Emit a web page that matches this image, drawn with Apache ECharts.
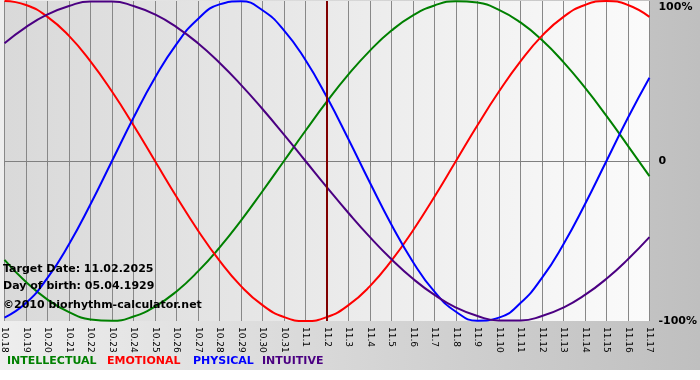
<!DOCTYPE html>
<html><head><meta charset="utf-8">
<script src="https://cdn.jsdelivr.net/npm/echarts@6/dist/echarts.min.js"></script>
<style>html,body{margin:0;padding:0;background:#fff}#c{width:700px;height:380px}</style>
</head><body><div id="c"></div>
<script>
const categories = ['10.18','10.19','10.20','10.21','10.22','10.23','10.24','10.25','10.26','10.27','10.28','10.29','10.30','10.31','11.1','11.2','11.3','11.4','11.5','11.6','11.7','11.8','11.9','11.10','11.11','11.12','11.13','11.14','11.15','11.16','11.17'];
const targetDate = '11.2';
const intellectual = [-0.618,-0.756,-0.866,-0.945,-0.990,-0.999,-0.972,-0.910,-0.815,-0.690,-0.541,-0.372,-0.189,0,0.189,0.372,0.541,0.690,0.815,0.910,0.972,0.999,0.990,0.945,0.866,0.756,0.618,0.458,0.282,0.095,-0.095];
const emotional = [1.000,0.975,0.901,0.782,0.623,0.434,0.223,0,-0.223,-0.434,-0.623,-0.782,-0.901,-0.975,-1.000,-0.975,-0.901,-0.782,-0.623,-0.434,-0.223,0,0.223,0.434,0.623,0.782,0.901,0.975,1.000,0.975,0.901];
const physical = [-0.979,-0.888,-0.731,-0.520,-0.270,0,0.270,0.520,0.731,0.888,0.979,0.998,0.942,0.817,0.631,0.398,0.136,-0.136,-0.398,-0.631,-0.817,-0.942,-0.998,-0.979,-0.888,-0.731,-0.520,-0.270,0,0.270,0.520];
const intuitive = [0.736,0.837,0.916,0.969,0.997,0.997,0.969,0.916,0.837,0.736,0.614,0.476,0.325,0.165,0,-0.165,-0.325,-0.476,-0.614,-0.736,-0.837,-0.916,-0.969,-0.997,-0.997,-0.969,-0.916,-0.837,-0.736,-0.614,-0.476];
const seriesNames = ['INTELLECTUAL','EMOTIONAL','PHYSICAL','INTUITIVE'];
const seriesColors = ['#008000','#ff0000','#0000ff','#4b0082'];
const yTickLabels = {'-1':'-100%','0':'0','1':'100%'};
const infoLines = ['Target Date: 11.02.2025','Day of birth: 05.04.1929','\u00a92010 biorhythm-calculator.net'];

const chart = echarts.init(document.getElementById('c'), null, {renderer:'canvas'});
const FF = '"DejaVu Sans", Verdana, sans-serif';
const dataSets = [intellectual, emotional, physical, intuitive];
const series = dataSets.map((d, i) => ({
  name: seriesNames[i], type:'line', data:d, smooth:true, symbol:'none',
  lineStyle:{color:seriesColors[i], width:2}, itemStyle:{color:seriesColors[i]},
  emphasis:{disabled:true}, z: 3
}));
series[0].markLine = {
  silent:true, symbol:['none','none'], label:{show:false}, animation:false,
  lineStyle:{color:'#800000', width:2, type:'solid'},
  emphasis:{disabled:true},
  data:[{xAxis: targetDate}]
};
const legendX = [7, 107, 193, 262];
const graphics = [
  {type:'rect', z:-100, shape:{x:0,y:0,width:700,height:370},
   style:{fill:new echarts.graphic.LinearGradient(0,0,1,0,[{offset:0,color:'#eeeeee'},{offset:1,color:'#bfbfbf'}])}},
  {type:'rect', z:-100, shape:{x:0,y:370,width:700,height:10}, style:{fill:'#ffffff'}}
];
seriesNames.forEach((n,i)=>graphics.push({type:'text', left:legendX[i], top:356, z:100,
  style:{text:n, fill:seriesColors[i], font:'bold 11px '+FF}}));
const infoTop = [264, 281, 300];
infoLines.forEach((t,i)=>graphics.push({type:'text', left:3, top:infoTop[i], z:100,
  style:{text:t, fill:'#000', font:'bold 11px '+FF}}));

chart.setOption({
  animation:false,
  backgroundColor:'transparent',
  grid:{left:0, right:50, top:1, bottom:59, show:true, borderWidth:0,
    backgroundColor:new echarts.graphic.LinearGradient(0,0,1,0,[{offset:0,color:'#d9d9d9'},{offset:1,color:'#fbfbfb'}])},
  xAxis:{type:'category', data:categories, boundaryGap:false,
    axisLine:{show:true, lineStyle:{color:'#808080', width:1}},
    axisTick:{show:true, length:5, interval:0, lineStyle:{color:'#808080'}},
    axisLabel:{interval:0, rotate:-90, margin:6, fontSize:9, fontFamily:FF, color:'#000'},
    splitLine:{show:true, interval:0, lineStyle:{color:'#888888', width:1}}},
  yAxis:{type:'value', position:'right', min:-1, max:1, interval:1,
    axisLine:{show:false}, axisTick:{show:false},
    axisLabel:{margin:9, color:'#000', fontWeight:'bold', fontSize:11, fontFamily:FF,
      formatter:v => v === 1 ? '{t|' + yTickLabels['1'] + '}' : yTickLabels[String(v)],
      rich:{t:{padding:[12,0,0,0], fontWeight:'bold', fontSize:11, fontFamily:FF, color:'#000'}}},
    splitLine:{show:true, showMaxLine:false, showMinLine:false, lineStyle:{color:'#888888', width:1}}},
  graphic:graphics,
  series:series
});
</script></body></html>
